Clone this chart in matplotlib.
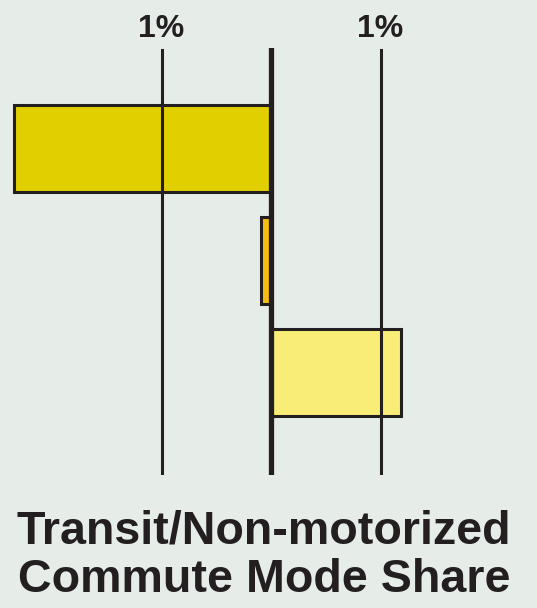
import matplotlib.pyplot as plt

# share change, percentage points
categories = ["a", "b", "c"]
values = [-2.35, -0.09, 1.19]
bar_colors = ["#e2cf00", "#f5be10", "#f9ed77"]
grid_vals = [-1, 1]
grid_labels = ["1%", "1%"]
title_lines = ["Transit/Non-motorized", "Commute Mode Share"]

bg = "#e6ece8"
ink = "#231f20"

plt.rcParams['font.family'] = ['Liberation Sans', 'DejaVu Sans']

fig = plt.figure(figsize=(5.37, 6.08), dpi=100)
fig.patch.set_facecolor(bg)
ax = fig.add_axes([0, 0.21875, 1, 0.7023])
ax.set_facecolor(bg)

y_pos = list(range(len(categories)))
ax.barh(y_pos, values, height=0.78, color=bar_colors, edgecolor=ink,
        linewidth=2.2, zorder=2)

for gv, gl in zip(grid_vals, grid_labels):
    ax.axvline(gv, ymin=0, ymax=0.995, color=ink, linewidth=2.2, zorder=3)
    fig.text((271 + gv * 109.5) / 537, 1 - 37 / 608, gl, ha="center",
             va="baseline", fontsize=23, fontweight="bold", color=ink)
ax.axvline(0, color=ink, linewidth=3.8, zorder=4)

ax.set_xlim(-271 / 109.5, (537 - 271) / 109.5)
ax.set_ylim(2.92, -0.9)
ax.axis("off")

fig.text(264 / 537, 1 - 543 / 608, title_lines[0], ha="center", va="baseline",
         fontsize=33.6, fontweight="bold", color=ink)
fig.text(264 / 537, 1 - 592 / 608, title_lines[1], ha="center", va="baseline",
         fontsize=33.6, fontweight="bold", color=ink)

fig.savefig("out.png", dpi=100, facecolor=bg)
